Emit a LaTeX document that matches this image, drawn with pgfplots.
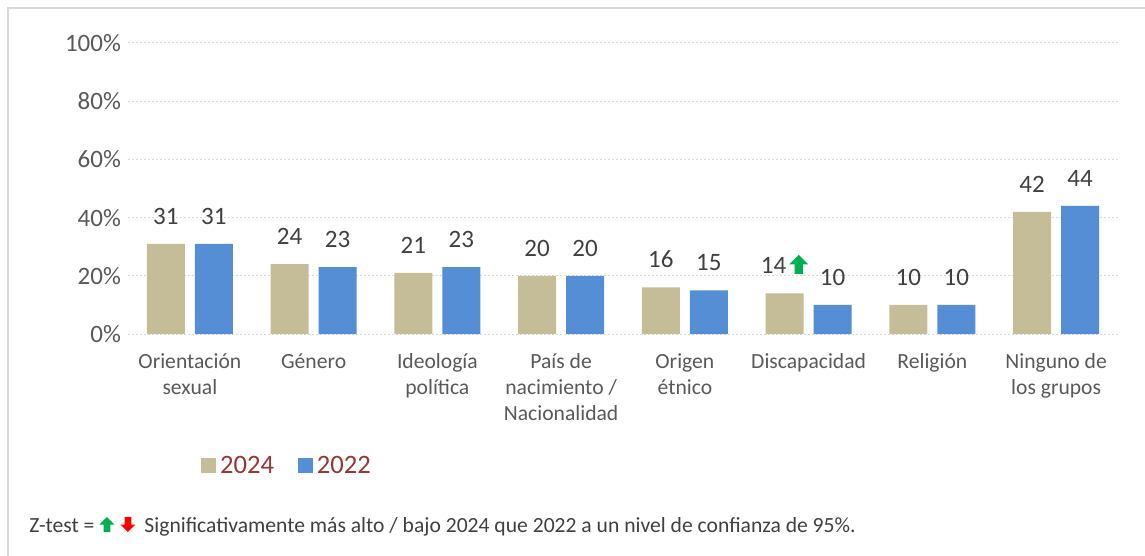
\documentclass[border=0pt]{standalone}
\usepackage{pgfplots}
\pgfplotsset{compat=1.18}
\usepackage{fontspec}
\setmainfont{Carlito}

\definecolor{bar24}{HTML}{C4BD97}
\definecolor{bar22}{HTML}{558ED5}
\definecolor{gridc}{HTML}{D9D9D9}
\definecolor{framec}{HTML}{D9D9D9}
\definecolor{tickc}{HTML}{595959}
\definecolor{labc}{HTML}{404040}
\definecolor{legred}{HTML}{953735}
\definecolor{zgreen}{HTML}{00B050}
\definecolor{zred}{HTML}{FF0000}

% block arrows: #1 size, #2 colour
\newcommand{\uparr}[2]{\tikz[baseline=0pt,x=#1,y=#1]\fill[#2] (0.28,0)--(0.72,0)--(0.72,0.5)--(1,0.5)--(0.5,1)--(0,0.5)--(0.28,0.5)--cycle;}
\newcommand{\dnarr}[2]{\tikz[baseline=0pt,x=#1,y=#1]\fill[#2] (0.28,1)--(0.72,1)--(0.72,0.5)--(1,0.5)--(0.5,0)--(0,0.5)--(0.28,0.5)--cycle;}
\newcommand{\s}{\rule{0pt}{10pt}}

\pgfplotsset{sq/.style={legend image code/.code={\fill[##1] (0pt,-3.75pt) rectangle (7.5pt,3.75pt);}}}

\begin{document}
\begin{tikzpicture}
\useasboundingbox (-64pt,-111pt) rectangle (508.5pt,167pt);
\draw[color=framec, line width=1.2pt] (-60pt,-111pt) -- (-60pt,163pt) -- (508.5pt,163pt);
\begin{axis}[
  scale only axis, width=495pt, height=145.5pt,
  xmin=-0.5, xmax=7.5, ymin=0, ymax=100,
  ybar=5pt, bar width=19pt,
  axis line style={draw=none}, major tick length=0pt,
  xtick={0,...,7},
  xticklabels={{\s Orientación\\sexual},{\s Género},{\s Ideología\\política},{\s País de\\nacimiento /\\Nacionalidad},{\s Origen\\étnico},{\s Discapacidad},{\s Religión},{\s Ninguno de\\los grupos}},
  xticklabel style={align=center, anchor=north, inner sep=0pt, yshift=-7pt,
    font=\fontsize{10.8}{13}\selectfont, text=tickc},
  ytick={0,20,...,100},
  yticklabel={\pgfmathprintnumber{\tick}\%},
  yticklabel style={font=\fontsize{12.5}{14}\selectfont, text=tickc},
  /pgf/number format/assume math mode=true,
  ymajorgrids,
  grid style={color=gridc, dash pattern=on 1pt off 1pt, line width=0.5pt},
  nodes near coords,
  point meta=explicit symbolic,
  every node near coord/.append style={font=\fontsize{12.5}{14}\selectfont, text=labc,
    anchor=south, inner sep=0pt, yshift=9.5pt},
  legend style={draw=none, fill=none, at={(0.1616,-0.4536)}, anchor=center,
    legend columns=2, font=\fontsize{13.3}{16}\selectfont, text=legred,
    /tikz/every even column/.append style={column sep=10pt}},
]
\addplot[fill=bar24, draw=none, sq] coordinates {
  (0,31)[31] (1,24)[24] (2,21)[21] (3,20)[20] (4,16)[16] (5,14)[14\hspace{1.5pt}\uparr{9.5pt}{zgreen}] (6,10)[10] (7,42)[42]};
\addplot[fill=bar22, draw=none, sq] coordinates {
  (0,31)[31] (1,23)[23] (2,23)[23] (3,20)[20] (4,15)[15] (5,10)[10] (6,10)[10] (7,44)[44]};
\legend{2024,2022}
\end{axis}
\node[anchor=base west, inner sep=0pt, font=\fontsize{10.8}{12}\selectfont, text=labc]
  at (-49.5pt,-99pt) {Z-test =\hspace{2.5pt}\uparr{7.5pt}{zgreen}\hspace{3pt}\dnarr{7.5pt}{zred}\hspace{4.5pt}Significativamente más alto / bajo 2024 que 2022 a un nivel de confianza de 95\%.};
\end{tikzpicture}
\end{document}
